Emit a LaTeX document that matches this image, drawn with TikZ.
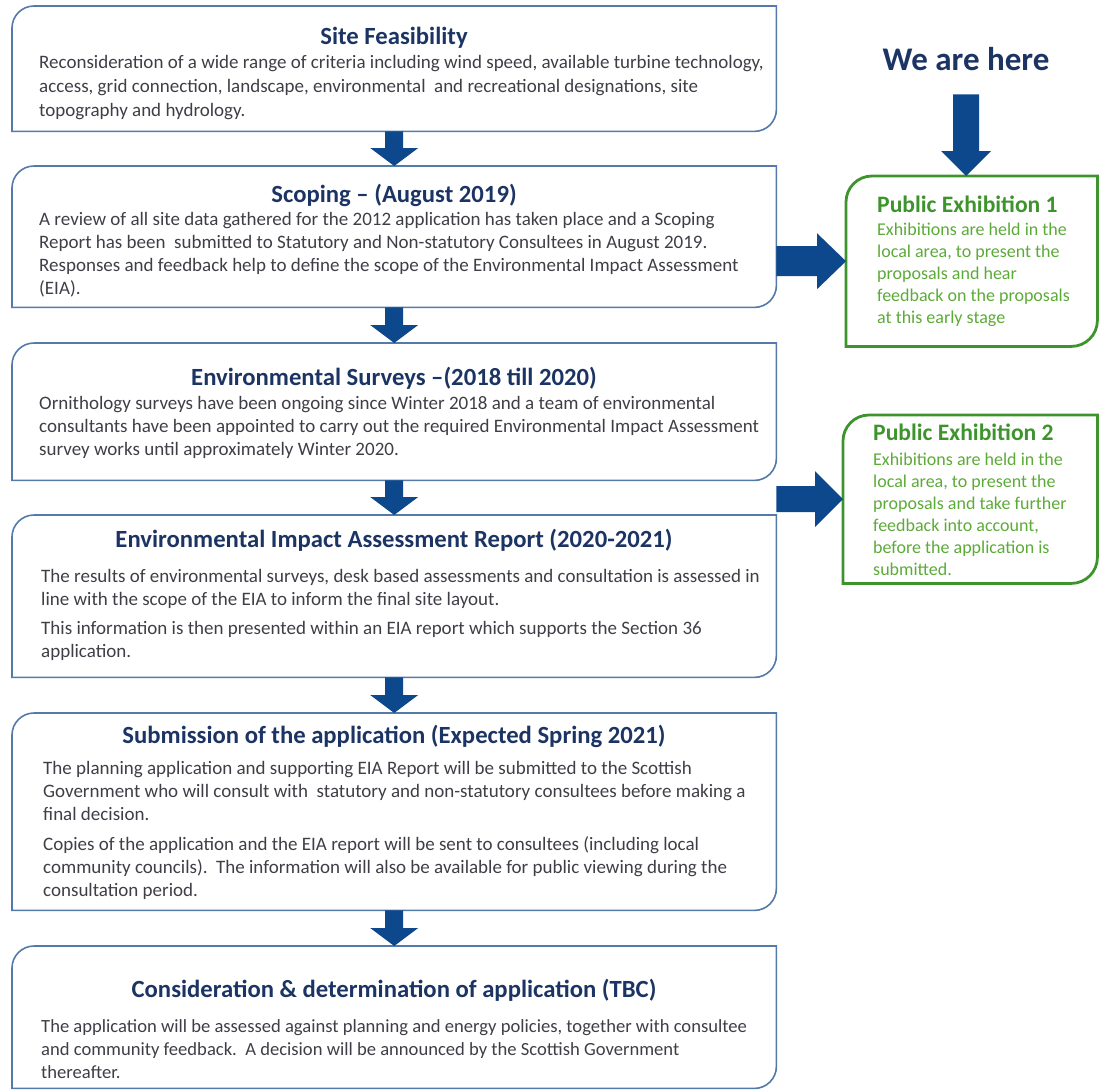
\documentclass[tikz,border=0pt]{standalone}
\usepackage{fontspec}
\setmainfont{Carlito}
\usepackage{tikz}
\usetikzlibrary{calc}
\definecolor{boxblue}{RGB}{84,122,170}
\definecolor{titlenavy}{RGB}{28,52,100}
\definecolor{flowblue}{RGB}{14,72,140}
\definecolor{bodygray}{RGB}{62,62,70}
\definecolor{exgreen}{RGB}{62,148,44}
\definecolor{extext}{RGB}{92,170,56}

% outline with round top-left and bottom-right corners
\newcommand{\diagcorners}[3]{%
  \draw[#1] (#2.south west) -- ([yshift=-#3]#2.north west)
    arc[start angle=180, end angle=90, radius=#3] -- (#2.north east)
    -- ([yshift=#3]#2.south east) arc[start angle=0, end angle=-90, radius=#3] -- cycle;}
% block arrows: tail, tip, shaft half width, head half width, head length
\newcommand{\downblock}[5]{%
  \fill[flowblue] ($(#1)+(-#3,0)$) -- ($(#1)+(#3,0)$) -- ($(#2)+(#3,#5)$) -- ($(#2)+(#4,#5)$)
    -- (#2) -- ($(#2)+(-#4,#5)$) -- ($(#2)+(-#3,#5)$) -- cycle;}
\newcommand{\rightblock}[5]{%
  \fill[flowblue] ($(#1)+(0,#3)$) -- ($(#2)+(-#5,#3)$) -- ($(#2)+(-#5,#4)$)
    -- (#2) -- ($(#2)+(-#5,-#4)$) -- ($(#2)+(-#5,-#3)$) -- ($(#1)+(0,-#3)$) -- cycle;}
\newcommand{\textlines}[1]{\parbox[t]{760pt}{\raggedright #1}}

\begin{document}
\begin{tikzpicture}[x=1pt,y=1pt,
    stage/.style={anchor=north west, minimum width=764pt, inner sep=0pt},
    exbox/.style={anchor=north west, inner sep=0pt},
    stagetitle/.style={anchor=base, inner sep=0pt, font=\bfseries\fontsize{24.7}{29}\selectfont, text=titlenavy},
    stagetext/.style={anchor=base west, inner sep=0pt, font=\fontsize{19}{23}\selectfont, text=bodygray},
    extitle/.style={anchor=base west, inner sep=0pt, font=\bfseries\fontsize{23.6}{27}\selectfont, text=exgreen},
    extext/.style={anchor=base west, inner sep=0pt, font=\fontsize{18}{22}\selectfont, text=extext}]
\useasboundingbox (0,0) rectangle (1099,-1090);

% stage boxes
\node[stage, minimum height=125pt] (site) at (12,-6) {};
\node[stage, minimum height=141pt] (scope) at (12,-166) {};
\node[stage, minimum height=137pt] (survey) at (12,-343) {};
\node[stage, minimum height=162pt] (eiar) at (12,-515) {};
\node[stage, minimum height=197pt] (submit) at (12,-713) {};
\node[stage, minimum height=142pt] (decide) at (12,-946) {};
\foreach \b in {site,scope,survey,eiar,submit,decide}
  \diagcorners{boxblue, line width=1.6pt}{\b}{22pt};

\node[stagetitle] (siteT) at (394,-44) {Site Feasibility};
\node[stagetext, font=\fontsize{19}{24}\selectfont] (siteB) at (39,-68) {\textlines{Reconsideration of a wide range of criteria including wind speed, available turbine technology,\\
  access, grid connection, landscape, environmental\ \ and recreational designations, site\\
  topography and hydrology.}};

\node[stagetitle] (scopeT) at (394,-202) {Scoping – (August 2019)};
\node[stagetext] (scopeB) at (39,-225) {\textlines{A review of all site data gathered for the 2012 application has taken place and a Scoping\\
  Report has been\ \ submitted to Statutory and Non-statutory Consultees in August 2019.\\
  Responses and feedback help to define the scope of the Environmental Impact Assessment\\
  (EIA).}};

\node[stagetitle] (surveyT) at (394,-385) {Environmental Surveys –(2018 till 2020)};
\node[stagetext] (surveyB) at (39,-409) {\textlines{Ornithology surveys have been ongoing since Winter 2018 and a team of environmental\\
  consultants have been appointed to carry out the required Environmental Impact Assessment\\
  survey works until approximately Winter 2020.}};

\node[stagetitle] (eiarT) at (394,-547) {Environmental Impact Assessment Report (2020-2021)};
\node[stagetext] (eiarB) at (41,-582) {\textlines{The results of environmental surveys, desk based assessments and consultation is assessed in\\
  line with the scope of the EIA to inform the final site layout.\\[6pt]
  This information is then presented within an EIA report which supports the Section 36\\
  application.}};

\node[stagetitle] (submitT) at (394,-743) {Submission of the application (Expected Spring 2021)};
\node[stagetext] (submitB) at (43,-774) {\textlines{The planning application and supporting EIA Report will be submitted to the Scottish\\
  Government who will consult with\ \ statutory and non-statutory consultees before making a\\
  final decision.\\[7pt]
  Copies of the application and the EIA report will be sent to consultees (including local\\
  community councils).\ \ The information will also be available for public viewing during the\\
  consultation period.}};

\node[stagetitle] (decideT) at (394,-997) {Consideration \& determination of application (TBC)};
\node[stagetext, font=\fontsize{18.6}{23}\selectfont] (decideB) at (41,-1032) {\textlines{The application will be assessed against planning and energy policies, together with consultee\\
  and community feedback.\ \ A decision will be announced by the Scottish Government\\
  thereafter.}};

% arrows down the column
\downblock{site.south}{scope.north}{9}{24}{18}
\downblock{scope.south}{survey.north}{9}{24}{18}
\downblock{survey.south}{eiar.north}{9}{24}{18}
\downblock{eiar.south}{submit.north}{9}{24}{18}
\downblock{submit.south}{decide.north}{9}{24}{18}

% public exhibitions
\node[exbox, minimum width=251pt, minimum height=170pt] (pe1) at (846,-176) {};
\node[exbox, minimum width=254pt, minimum height=168pt] (pe2) at (843,-415) {};
\diagcorners{exgreen, line width=2.8pt}{pe1}{26pt}
\diagcorners{exgreen, line width=2.8pt}{pe2}{26pt}

\node[extitle] (pe1T) at (877,-212) {Public Exhibition 1};
\node[extext] (pe1B) at (877,-235) {\parbox[t]{215pt}{Exhibitions are held in the\\
  local area, to present the\\ proposals and hear\\ feedback on the proposals\\ at this early stage}};
\node[extitle] (pe2T) at (873,-440) {Public Exhibition 2};
\node[extext] (pe2B) at (873,-465) {\parbox[t]{220pt}{Exhibitions are held in the\\
  local area, to present the\\ proposals and take further\\ feedback into account,\\ before the application is\\ submitted.}};

\node[anchor=base, inner sep=0pt, font=\bfseries\fontsize{33}{39}\selectfont, text=titlenavy] (here) at (966,-70) {We are here};

% arrows to the exhibitions
\coordinate (herefoot) at ([yshift=-24pt]here.south);
\coordinate (pe1top) at (here.south |- pe1.north);
\downblock{herefoot}{pe1top}{13}{25}{25}
\coordinate (pe1in) at (scope.east |- pe1.west);
\rightblock{pe1in}{pe1.west}{15}{28}{29}
\coordinate (pe2in) at (survey.east |- pe2.west);
\rightblock{pe2in}{pe2.west}{13}{28}{28}
\end{tikzpicture}
\end{document}
